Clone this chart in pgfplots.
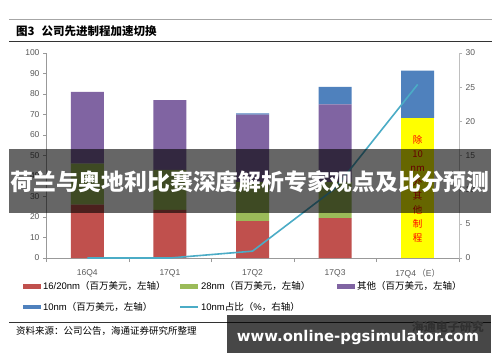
\documentclass[border=0pt]{standalone}
\usepackage{pgfplots}
\pgfplotsset{compat=1.18}
\usepackage{fontspec}
\setmainfont{Liberation Sans}
\newfontfamily\cjk{Noto Sans CJK SC}
\newfontfamily\dvb{DejaVu Sans}
\definecolor{cRed}{HTML}{C0504D}
\definecolor{cGreen}{HTML}{9BBB59}
\definecolor{cPurple}{HTML}{8064A2}
\definecolor{cBlue}{HTML}{4F81BD}
\definecolor{cLine}{HTML}{4BACC6}
\definecolor{cYellow}{HTML}{FFFF00}
\definecolor{tickgray}{HTML}{595959}
\begin{document}
\begin{tikzpicture}[x=1pt,y=1pt]
\useasboundingbox (0,0) rectangle (500,362);
\fill[white] (0,0) rectangle (500,362);
\draw[gray!70, line width=1pt] (9,342) -- (492,342);
\draw[black!80, line width=0.9pt] (9,321) -- (492,321);
\node[anchor=west, inner sep=0pt, font=\cjk\bfseries\fontsize{11.5}{12}\selectfont] at (16,331) {图3\hspace{7pt}公司先进制程加速切换};

\begin{axis}[
  at={(46pt,104pt)}, anchor=south west,
  scale only axis, width=413pt, height=205pt,
  xmin=-0.5, xmax=4.5, ymin=0, ymax=100,
  ybar stacked, bar width=33pt,
  axis x line*=bottom, axis y line*=left,
  x axis line style={gray!80, -}, y axis line style={gray!80, -},
  tick align=outside,
  xtick={0,1,2,3,4},
  xticklabels={16Q4,17Q1,17Q2,17Q3,{17Q4\,{\cjk （}E{\cjk ）}}},
  major x tick style={draw=none},
  minor xtick={-0.5,0.5,1.5,2.5,3.5,4.5},
  minor tick length=4pt,
  minor x tick style={gray!80},
  ytick={0,10,...,100},
  major tick length=3pt,
  y tick style={gray!80},
  /pgf/number format/assume math mode=true,
  ticklabel style={font=\fontsize{8.5}{10}\selectfont, text=tickgray},
  xticklabel style={yshift=-5pt},
  legend columns=3,
  legend cell align=left,
  legend style={draw=none, fill=none, at={(-0.056,-0.105)}, anchor=north west,
    font=\fontsize{9.5}{11}\selectfont, inner sep=0pt, row sep=7pt,
    /tikz/every even column/.append style={text width=134pt}},
  legend image code/.code={\fill[#1] (0pt,-2.2pt) rectangle (18pt,2.2pt);},
]
\addplot[fill=cRed, draw=none] coordinates {(0,26) (1,23.5) (2,18) (3,19.5) (4,0)};
\addplot[fill=cGreen, draw=none] coordinates {(0,20) (1,19.5) (2,19) (3,17.5) (4,0)};
\addplot[fill=cPurple, draw=none] coordinates {(0,35) (1,34) (2,33) (3,38) (4,0)};
\addplot[fill=cYellow, draw=none, forget plot] coordinates {(0,0) (1,0) (2,0) (3,0) (4,68.3)};
\addplot[fill=cBlue, draw=none] coordinates {(0,0) (1,0) (2,0.6) (3,8.5) (4,23.1)};
\addlegendimage{legend image code/.code={\draw[cLine, line width=2pt] (0pt,0pt) -- (18pt,0pt);}}
\legend{16/20nm{\cjk （百万美元，左轴）}, 28nm{\cjk （百万美元，左轴）}, {\cjk 其他（百万美元，左轴）}, 10nm{\cjk （百万美元，左轴）}, 10nm{\cjk 占比（}\%{\cjk ，右轴）}}
\end{axis}

\begin{axis}[
  at={(46pt,104pt)}, anchor=south west,
  scale only axis, width=413pt, height=205pt,
  xmin=-0.5, xmax=4.5, ymin=0, ymax=30,
  axis y line*=right, axis x line=none,
  y axis line style={gray!50, -},
  tick align=outside, major tick length=3pt,
  y tick style={gray!60},
  ytick={0,5,...,30},
  /pgf/number format/assume math mode=true,
  ticklabel style={font=\fontsize{8.5}{10}\selectfont, text=tickgray},
]
\addplot[cLine, line width=1.6pt, mark=none] coordinates {(0,0) (1,0) (2,1.0) (3,10.2) (4,25.4)};
\node[text=red, align=center, inner sep=0pt, font=\cjk\fontsize{9.5}{14}\selectfont] at (axis cs:4,10.14) {除\\10\\nm\\外\\其\\他\\制\\程};
\end{axis}

% overlay banner
\fill[black, opacity=0.6] (9,148.7) rectangle (491,213.5);
\node[text=white, inner sep=0pt, font=\cjk\bfseries\fontsize{22.8}{24}\selectfont] at (250,180) {荷兰与奥地利比赛深度解析专家观点及比分预测};

% bottom
\draw[black!80, line width=0.8pt] (9,40) -- (491,40);
\node[anchor=west, inner sep=0pt, font=\cjk\fontsize{9.5}{10}\selectfont] at (16,31) {资料来源：公司公告，海通证券研究所整理};
\node[anchor=east, inner sep=0pt, text=gray!60, font=\cjk\bfseries\fontsize{12}{12}\selectfont] at (484,35) {海通电子研究};
\fill[black, opacity=0.72] (227,9.3) rectangle (491,47);
\node[text=white, inner sep=0pt] at (358,25) {\resizebox{242pt}{!}{\dvb\bfseries www.online-pgsimulator.com}};
\end{tikzpicture}
\end{document}
